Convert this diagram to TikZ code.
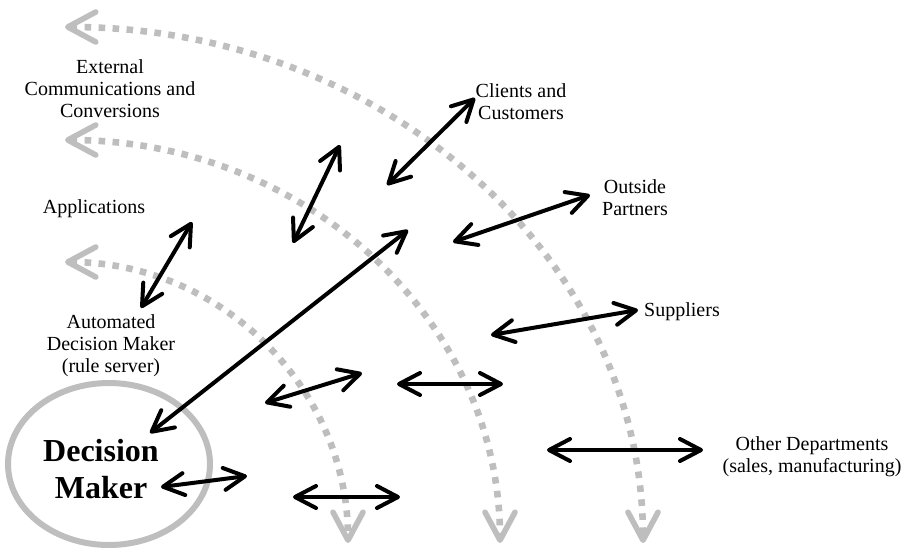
\documentclass[tikz,border=0pt]{standalone}
\usepackage{fontspec}
\setmainfont{Liberation Serif}
\usetikzlibrary{arrows.meta}
\definecolor{flowgray}{RGB}{190,190,190}
\begin{document}
\begin{tikzpicture}[x=0.5pt,y=-0.5pt,
  flow/.style={draw=flowgray, line width=3.3pt, dash pattern=on 3.3pt off 3.7pt,
    >={Straight Barb[length=14pt,width=15pt,line width=2.8pt,round]}, <->},
  link/.style={draw=black, line width=2pt,
    >={Straight Barb[length=10.5pt,width=11pt,round]}, <->},
  ring/.style={draw=flowgray, line width=3pt},
  lbl/.style={inner sep=0pt, align=center, font=\fontsize{10}{11}\selectfont},
  big/.style={inner sep=0pt, align=center, font=\fontsize{16}{18.5}\selectfont\bfseries}]
% page frame
\useasboundingbox (0,0) rectangle (908,552);

% labels
\node[lbl] (ext) at (110,89) {External\\Communications and\\Conversions};
\node[lbl] (apps) at (94,209) {Applications};
\node[lbl] (auto) at (111,346) {Automated\\Decision Maker\\(rule server)};
\node[big] (dm) at (101,469) {Decision\\Maker};
\node[lbl] (clients) at (521,102) {Clients and\\Customers};
\node[lbl] (partners) at (635,198) {Outside\\Partners};
\node[lbl] (suppliers) at (682,312) {Suppliers};
\node[lbl] (other) at (812,457) {Other Departments\\(sales, manufacturing)};

% ring round the decision maker
\draw[ring] (109,464) ellipse [x radius=50.5pt, y radius=40.5pt];

% dotted flow arcs (quarter ellipses)
\coordinate (f1s) at (65,27);  \coordinate (f1e) at (643,543);
\coordinate (f2s) at (65,140); \coordinate (f2e) at (500,543);
\coordinate (f3s) at (65,262); \coordinate (f3e) at (348,543);
\draw[flow] (f1s) .. controls (384,27) and (643,258) .. (f1e);
\draw[flow] (f2s) .. controls (305,140) and (500,320) .. (f2e);
\draw[flow] (f3s) .. controls (221,262) and (348,388) .. (f3e);

% exchange arrows
\coordinate (appA) at (192,222); \coordinate (appB) at (141,308);
\coordinate (w2A) at (340,145);  \coordinate (w2B) at (293,243);
\coordinate (cliA) at (475,98);  \coordinate (cliB) at (387,185);
\coordinate (parA) at (590,195); \coordinate (parB) at (453,242);
\coordinate (bigA) at (408,230); \coordinate (bigB) at (150,433);
\coordinate (supA) at (638,310); \coordinate (supB) at (491,335);
\coordinate (m1A) at (362,373);  \coordinate (m1B) at (265,403);
\coordinate (m2A) at (503,384);  \coordinate (m2B) at (397,384);
\coordinate (dmA) at (247,476);  \coordinate (dmB) at (161,487);
\coordinate (b1A) at (400,497);  \coordinate (b1B) at (293,497);
\coordinate (othA) at (703,450); \coordinate (othB) at (547,450);

\draw[link] (appA) -- (appB);
\draw[link] (w2A) -- (w2B);
\draw[link] (cliA) -- (cliB);
\draw[link] (parA) -- (parB);
\draw[link] (bigA) -- (bigB);
\draw[link] (supA) -- (supB);
\draw[link] (m1A) -- (m1B);
\draw[link] (m2A) -- (m2B);
\draw[link] (dmA) -- (dmB);
\draw[link] (b1A) -- (b1B);
\draw[link] (othA) -- (othB);
\end{tikzpicture}
\end{document}
